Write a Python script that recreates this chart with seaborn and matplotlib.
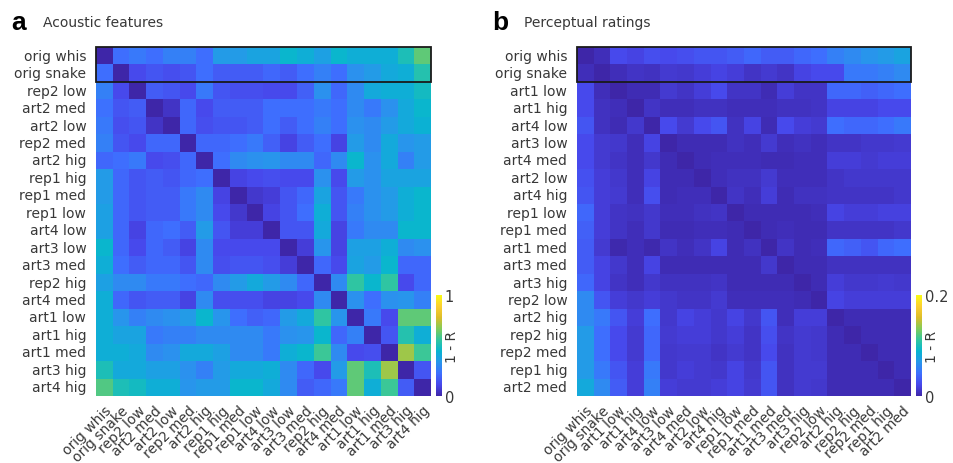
import numpy as np
import pandas as pd
import matplotlib
matplotlib.use("Agg")
import matplotlib.pyplot as plt
import matplotlib.patches as mpatches
from matplotlib.colors import LinearSegmentedColormap
import seaborn as sns

# ── data ──────────────────────────────────────────────────
acoustic_labels = [
    "orig whis", "orig snake", "rep2 low", "art2 med", "art2 low",
    "rep2 med", "art2 hig", "rep1 hig", "rep1 med", "rep1 low",
    "art4 low", "art3 low", "art3 med", "rep2 hig", "art4 med",
    "art1 low", "art1 hig", "art1 med", "art3 hig", "art4 hig",
]
acoustic_vals = [
    [0.00, 0.22, 0.25, 0.22, 0.27, 0.27, 0.22, 0.35, 0.35, 0.38, 0.38, 0.45, 0.42, 0.37, 0.45, 0.42, 0.42, 0.42, 0.50, 0.62],
    [0.22, 0.00, 0.12, 0.15, 0.13, 0.15, 0.22, 0.17, 0.17, 0.17, 0.20, 0.17, 0.22, 0.27, 0.22, 0.32, 0.35, 0.40, 0.42, 0.52],
    [0.27, 0.12, 0.00, 0.17, 0.15, 0.12, 0.25, 0.15, 0.13, 0.13, 0.12, 0.12, 0.18, 0.32, 0.20, 0.30, 0.40, 0.42, 0.42, 0.48],
    [0.23, 0.15, 0.17, 0.00, 0.05, 0.20, 0.12, 0.17, 0.17, 0.17, 0.22, 0.22, 0.22, 0.25, 0.22, 0.30, 0.25, 0.32, 0.40, 0.45],
    [0.25, 0.13, 0.15, 0.05, 0.00, 0.20, 0.13, 0.15, 0.15, 0.17, 0.22, 0.17, 0.22, 0.27, 0.22, 0.32, 0.30, 0.35, 0.40, 0.43],
    [0.27, 0.15, 0.12, 0.20, 0.20, 0.00, 0.20, 0.20, 0.22, 0.25, 0.18, 0.10, 0.17, 0.22, 0.10, 0.35, 0.30, 0.40, 0.33, 0.35],
    [0.20, 0.22, 0.25, 0.12, 0.13, 0.20, 0.00, 0.22, 0.30, 0.32, 0.33, 0.30, 0.30, 0.20, 0.30, 0.45, 0.32, 0.40, 0.27, 0.35],
    [0.35, 0.20, 0.15, 0.17, 0.15, 0.20, 0.22, 0.00, 0.10, 0.12, 0.13, 0.12, 0.12, 0.32, 0.12, 0.35, 0.32, 0.38, 0.38, 0.38],
    [0.35, 0.20, 0.15, 0.17, 0.17, 0.25, 0.30, 0.10, 0.00, 0.06, 0.08, 0.15, 0.20, 0.38, 0.15, 0.25, 0.32, 0.35, 0.42, 0.45],
    [0.37, 0.20, 0.15, 0.17, 0.17, 0.25, 0.30, 0.12, 0.06, 0.00, 0.10, 0.15, 0.22, 0.42, 0.15, 0.27, 0.32, 0.35, 0.42, 0.45],
    [0.37, 0.20, 0.10, 0.20, 0.22, 0.17, 0.35, 0.15, 0.08, 0.08, 0.00, 0.15, 0.15, 0.40, 0.10, 0.25, 0.30, 0.30, 0.45, 0.45],
    [0.45, 0.20, 0.12, 0.20, 0.17, 0.10, 0.30, 0.12, 0.12, 0.12, 0.12, 0.00, 0.08, 0.33, 0.10, 0.37, 0.37, 0.42, 0.30, 0.32],
    [0.42, 0.22, 0.17, 0.20, 0.20, 0.15, 0.30, 0.13, 0.15, 0.15, 0.13, 0.08, 0.00, 0.20, 0.12, 0.38, 0.35, 0.45, 0.20, 0.20],
    [0.37, 0.30, 0.30, 0.25, 0.25, 0.22, 0.20, 0.30, 0.35, 0.40, 0.35, 0.30, 0.20, 0.00, 0.30, 0.55, 0.45, 0.55, 0.12, 0.20],
    [0.42, 0.20, 0.15, 0.17, 0.17, 0.10, 0.30, 0.13, 0.13, 0.13, 0.10, 0.10, 0.12, 0.30, 0.00, 0.32, 0.22, 0.32, 0.33, 0.27],
    [0.42, 0.33, 0.27, 0.30, 0.32, 0.35, 0.45, 0.33, 0.22, 0.18, 0.20, 0.35, 0.40, 0.55, 0.33, 0.00, 0.25, 0.12, 0.62, 0.62],
    [0.42, 0.38, 0.38, 0.25, 0.27, 0.27, 0.30, 0.30, 0.30, 0.30, 0.25, 0.32, 0.33, 0.45, 0.20, 0.27, 0.00, 0.15, 0.52, 0.42],
    [0.42, 0.42, 0.40, 0.30, 0.32, 0.40, 0.40, 0.37, 0.30, 0.30, 0.25, 0.42, 0.45, 0.57, 0.30, 0.12, 0.13, 0.00, 0.70, 0.57],
    [0.50, 0.40, 0.40, 0.37, 0.37, 0.32, 0.27, 0.35, 0.40, 0.40, 0.42, 0.30, 0.20, 0.12, 0.35, 0.62, 0.50, 0.70, 0.00, 0.15],
    [0.60, 0.50, 0.48, 0.42, 0.42, 0.33, 0.35, 0.35, 0.45, 0.45, 0.40, 0.30, 0.17, 0.20, 0.25, 0.62, 0.42, 0.57, 0.17, 0.00],
]

percept_labels = [
    "orig whis", "orig snake", "art1 low", "art1 hig", "art4 low",
    "art3 low", "art4 med", "art2 low", "art4 hig", "rep1 low",
    "rep1 med", "art1 med", "art3 med", "art3 hig", "rep2 low",
    "art2 hig", "rep2 hig", "rep2 med", "rep1 hig", "art2 med",
]
percept_vals = [
    [0.000, 0.006, 0.024, 0.020, 0.026, 0.024, 0.026, 0.030, 0.030, 0.034, 0.040, 0.034, 0.034, 0.040, 0.044, 0.054, 0.060, 0.066, 0.070, 0.076],
    [0.006, 0.000, 0.006, 0.010, 0.008, 0.014, 0.012, 0.016, 0.020, 0.016, 0.010, 0.014, 0.010, 0.020, 0.024, 0.024, 0.050, 0.050, 0.054, 0.060],
    [0.024, 0.006, 0.000, 0.004, 0.004, 0.014, 0.010, 0.016, 0.024, 0.010, 0.010, 0.004, 0.016, 0.010, 0.010, 0.040, 0.040, 0.036, 0.040, 0.044],
    [0.024, 0.008, 0.006, 0.000, 0.010, 0.006, 0.006, 0.008, 0.008, 0.006, 0.006, 0.006, 0.008, 0.008, 0.010, 0.020, 0.020, 0.020, 0.024, 0.024],
    [0.030, 0.008, 0.004, 0.012, 0.000, 0.024, 0.014, 0.024, 0.030, 0.008, 0.020, 0.004, 0.024, 0.016, 0.014, 0.044, 0.040, 0.040, 0.044, 0.050],
    [0.024, 0.014, 0.012, 0.006, 0.020, 0.000, 0.004, 0.004, 0.004, 0.008, 0.006, 0.014, 0.006, 0.008, 0.006, 0.010, 0.010, 0.012, 0.012, 0.014],
    [0.024, 0.014, 0.010, 0.006, 0.012, 0.004, 0.000, 0.004, 0.006, 0.006, 0.006, 0.004, 0.004, 0.006, 0.006, 0.016, 0.016, 0.014, 0.016, 0.016],
    [0.028, 0.016, 0.012, 0.006, 0.020, 0.004, 0.004, 0.000, 0.006, 0.008, 0.008, 0.014, 0.006, 0.006, 0.006, 0.010, 0.012, 0.012, 0.012, 0.012],
    [0.030, 0.016, 0.014, 0.006, 0.026, 0.004, 0.006, 0.006, 0.000, 0.010, 0.006, 0.016, 0.004, 0.008, 0.008, 0.010, 0.010, 0.010, 0.010, 0.012],
    [0.040, 0.016, 0.010, 0.008, 0.012, 0.006, 0.006, 0.008, 0.010, 0.000, 0.004, 0.004, 0.004, 0.004, 0.006, 0.020, 0.016, 0.016, 0.018, 0.018],
    [0.036, 0.016, 0.010, 0.006, 0.012, 0.004, 0.004, 0.006, 0.006, 0.004, 0.000, 0.004, 0.006, 0.004, 0.004, 0.010, 0.010, 0.010, 0.010, 0.012],
    [0.034, 0.014, 0.002, 0.006, 0.002, 0.010, 0.006, 0.010, 0.020, 0.004, 0.008, 0.000, 0.010, 0.004, 0.006, 0.040, 0.036, 0.030, 0.040, 0.044],
    [0.034, 0.020, 0.012, 0.006, 0.020, 0.004, 0.004, 0.004, 0.004, 0.004, 0.004, 0.012, 0.000, 0.004, 0.004, 0.008, 0.008, 0.008, 0.008, 0.008],
    [0.040, 0.020, 0.010, 0.006, 0.012, 0.008, 0.008, 0.008, 0.010, 0.004, 0.004, 0.004, 0.004, 0.000, 0.004, 0.016, 0.012, 0.012, 0.014, 0.012],
    [0.060, 0.030, 0.016, 0.012, 0.016, 0.012, 0.010, 0.010, 0.014, 0.006, 0.006, 0.006, 0.006, 0.004, 0.000, 0.020, 0.016, 0.016, 0.016, 0.016],
    [0.060, 0.050, 0.030, 0.016, 0.044, 0.012, 0.020, 0.016, 0.012, 0.020, 0.012, 0.030, 0.006, 0.016, 0.016, 0.000, 0.004, 0.004, 0.004, 0.004],
    [0.070, 0.044, 0.024, 0.014, 0.040, 0.014, 0.016, 0.016, 0.012, 0.016, 0.010, 0.026, 0.010, 0.014, 0.012, 0.004, 0.000, 0.004, 0.004, 0.004],
    [0.070, 0.044, 0.024, 0.014, 0.040, 0.012, 0.014, 0.014, 0.010, 0.014, 0.010, 0.024, 0.008, 0.014, 0.012, 0.004, 0.004, 0.000, 0.004, 0.004],
    [0.070, 0.050, 0.030, 0.016, 0.050, 0.012, 0.016, 0.014, 0.012, 0.020, 0.012, 0.030, 0.008, 0.014, 0.014, 0.004, 0.004, 0.004, 0.000, 0.004],
    [0.080, 0.060, 0.034, 0.016, 0.054, 0.016, 0.014, 0.014, 0.016, 0.020, 0.014, 0.030, 0.008, 0.014, 0.012, 0.004, 0.004, 0.004, 0.004, 0.000],
]

# parula-like colormap (MATLAB default)
parula_pts = [
    (0.2422, 0.1504, 0.6603), (0.2803, 0.2782, 0.9221), (0.2440, 0.4358, 0.9988),
    (0.1540, 0.5902, 0.9218), (0.0297, 0.7082, 0.8163), (0.1938, 0.7758, 0.6251),
    (0.5044, 0.7993, 0.3480), (0.8634, 0.7406, 0.1596), (0.9892, 0.8136, 0.1885),
    (0.9769, 0.9839, 0.0805),
]
parula = LinearSegmentedColormap.from_list("parula", parula_pts)

sns.set_style("white")
plt.rcParams["font.family"] = ["DejaVu Sans"]
txt_col = "#383838"

fig = plt.figure(figsize=(9.54, 4.64), dpi=100)

panels = [
    ("a", "Acoustic features", acoustic_labels, acoustic_vals, 1.0, "1",
     [0.1006, 0.1444, 0.3512, 0.7522], [0.4570, 0.1444, 0.0063, 0.2177]),
    ("b", "Perceptual ratings", percept_labels, percept_vals, 0.2, "0.2",
     [0.6048, 0.1444, 0.3501, 0.7522], [0.9602, 0.1444, 0.0063, 0.2177]),
]

for letter, title, labels, vals, vmax, top_lbl, ax_pos, cb_pos in panels:
    ax = fig.add_axes(ax_pos)
    cax = fig.add_axes(cb_pos)
    df = pd.DataFrame(vals, index=labels, columns=labels)
    sns.heatmap(df, ax=ax, cmap=parula, vmin=0, vmax=vmax, cbar_ax=cax,
                xticklabels=True, yticklabels=True)
    ax.tick_params(axis="y", length=0, labelsize=10, colors=txt_col, pad=7)
    ax.tick_params(axis="x", length=0, labelsize=10, colors=txt_col, pad=5)
    ax.set_xticklabels(labels, rotation=45, ha="right", va="top",
                       rotation_mode="anchor", fontsize=10, color=txt_col)
    ax.set_yticklabels(labels, rotation=0, fontsize=10, color=txt_col)
    ax.set_xlabel("")
    ax.set_ylabel("")
    # outline around the two original sounds
    ax.add_patch(mpatches.Rectangle((0, 0), len(labels), 2, fill=False,
                                    edgecolor="#1a1a1a", lw=1.3, clip_on=False))

    cbar = ax.collections[0].colorbar
    cbar.set_ticks([0, vmax])
    cbar.set_ticklabels(["0", top_lbl])
    cbar.outline.set_visible(False)
    cax.tick_params(length=0, labelsize=10.5, colors=txt_col, pad=2)
    cax.text(1.5, 0.5, "1 - R", rotation=90, transform=cax.transAxes,
             ha="left", va="center", fontsize=10, color=txt_col)

    x0 = ax_pos[0]
    fig.text(x0 - 0.089, 0.951, letter, fontsize=19, fontweight="bold",
             family=["Liberation Sans", "DejaVu Sans"],
             ha="left", va="center", color="black")
    fig.text(x0 - 0.056, 0.950, title, fontsize=10, ha="left", va="center",
             color=txt_col)

fig.savefig("out.png", dpi=100)
